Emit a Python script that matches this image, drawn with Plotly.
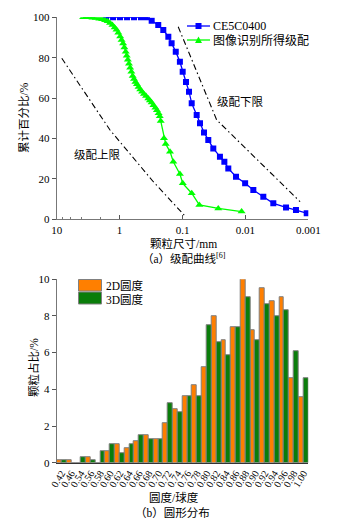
import plotly.graph_objects as go

# ---------------- data: top chart (grading curves) ----------------
blue_x = [1.64, 1.27, 0.986, 0.762, 0.59, 0.457, 0.367, 0.309, 0.243, 0.202, 0.168, 0.149,
          0.128, 0.110, 0.0993, 0.088, 0.0788, 0.0714, 0.0595, 0.0527, 0.0455, 0.0389,
          0.0324, 0.0254, 0.0216, 0.0187, 0.0141, 0.0101, 0.00748, 0.00519, 0.0036,
          0.00226, 0.00157, 0.00106]
blue_y = [100, 100, 100, 100, 100, 100, 100, 98.3, 96.2, 93.7, 90.4, 87.1,
          83, 78, 73, 68, 63.2, 57.4, 51.6, 47.5, 43, 39.3,
          35.1, 31, 28.5, 25.2, 21.1, 17.8, 14.5, 11.2, 7.9,
          5.9, 4.6, 3.0]

green_x = [3.8, 3.4, 3.0, 2.7, 2.4, 2.1, 1.9, 1.7, 1.55, 1.42, 1.3, 1.2, 1.12, 1.05, 0.98,
           0.93, 0.88, 0.84, 0.80, 0.77, 0.74, 0.71, 0.68, 0.65, 0.62, 0.59, 0.56, 0.53,
           0.50, 0.47, 0.44, 0.41, 0.38, 0.35, 0.33, 0.31, 0.29, 0.27, 0.255, 0.24, 0.23,
           0.222, 0.197, 0.185, 0.158, 0.140, 0.110, 0.099, 0.0714, 0.054, 0.027, 0.0115]
green_y = [100, 100, 100, 99.8, 99.6, 99.3, 99, 98.5, 98, 97.2, 96.2, 95, 93.8, 92.3, 90.5,
           88.8, 87, 85, 83, 81, 79, 77, 75, 73, 71, 69.5, 68, 66.8,
           65.5, 64.3, 63.2, 62, 61, 59.8, 58.8, 57.8, 56.5, 55.2, 54, 52.5, 51,
           48.7, 40.1, 37.3, 33.5, 28.5, 22.4, 17.8, 12.9, 7.1, 5.4, 3.8]

upper_x = [8.3, 1.42, 0.291, 0.094]
upper_y = [79.7, 44.2, 18.6, 2.1]
lower_x = [0.117, 0.0286, 0.00135]
lower_y = [95.3, 49.2, 8.7]

top_ticks = [10, 1, 0.1, 0.01, 0.001]
top_tick_text = ["10", "1", "0.1", "0.01", "0.001"]

# ---------------- data: bottom chart (roundness distribution) ----------------
categories = ["0.42", "0.46", "0.54", "0.56", "0.58", "0.60", "0.62", "0.64", "0.66",
              "0.68", "0.70", "0.72", "0.74", "0.76", "0.78", "0.80", "0.82", "0.84",
              "0.86", "0.88", "0.90", "0.92", "0.94", "0.96", "0.98", "1.00"]
round_2d = [0.15, 0.15, 0, 0.3, 0, 0.65, 1.0, 0.8, 1.15, 1.5, 1.3, 2.15, 2.9, 3.6, 4.25,
            5.2, 8.0, 6.7, 7.4, 10.0, 7.2, 9.5, 8.8, 9.0, 4.6, 3.55]
round_3d = [0.15, 0, 0.3, 0.15, 0.65, 1.0, 0.5, 1.0, 1.5, 1.3, 1.3, 3.25, 2.75, 3.6, 3.6,
            7.5, 6.55, 5.85, 7.4, 9.0, 6.7, 8.65, 8.0, 8.3, 6.05, 4.6]

W, H = 353, 521
SERIF = "Liberation Serif, Times New Roman, Noto Sans CJK SC, serif"
CJK = "Liberation Serif, Noto Sans CJK SC, serif"

def px(xp):
    return xp / W

def py(yp):
    return 1 - yp / H

fig = go.Figure()

DASH = "6px,3px,1.5px,3px"
fig.add_trace(go.Scatter(x=upper_x, y=upper_y, mode="lines", xaxis="x", yaxis="y",
                         line=dict(color="black", width=1.1, dash=DASH), showlegend=False))
fig.add_trace(go.Scatter(x=lower_x, y=lower_y, mode="lines", xaxis="x", yaxis="y",
                         line=dict(color="black", width=1.1, dash=DASH), showlegend=False))
fig.add_trace(go.Scatter(x=blue_x, y=blue_y, mode="lines+markers", xaxis="x", yaxis="y",
                         line=dict(color="#0000FF", width=1.3),
                         marker=dict(symbol="square", size=6, color="#0000FF"),
                         showlegend=False))
fig.add_trace(go.Scatter(x=green_x, y=green_y, mode="lines+markers", xaxis="x", yaxis="y",
                         line=dict(color="#00FF00", width=1.3),
                         marker=dict(symbol="triangle-up", size=7, color="#00FF00"),
                         showlegend=False))

fig.add_trace(go.Bar(x=categories, y=round_2d, xaxis="x2", yaxis="y2", name="2D圆度",
                     marker=dict(color="#FF7F00", line=dict(color="#808080", width=1)),
                     showlegend=False))
fig.add_trace(go.Bar(x=categories, y=round_3d, xaxis="x2", yaxis="y2", name="3D圆度",
                     marker=dict(color="#0A7D0A", line=dict(color="#808080", width=1)),
                     showlegend=False))

tickfont = dict(family=SERIF, size=11, color="black")

fig.update_layout(
    template="none",
    width=W, height=H,
    margin=dict(l=0, r=0, t=0, b=0, pad=0),
    paper_bgcolor="white", plot_bgcolor="white",
    barmode="group", bargap=0, bargroupgap=0,
    xaxis=dict(type="log", domain=[px(56.7), px(308.3)], range=[1, -3], anchor="y",
               automargin=False,
               tickvals=top_ticks, ticktext=top_tick_text, ticks="inside", ticklen=4,
               tickcolor="#555", showline=True, linecolor="#777", linewidth=1,
               showgrid=False, zeroline=False, tickfont=tickfont,
               minor=dict(ticks="inside", ticklen=2, tickcolor="#777", showgrid=False)),
    yaxis=dict(domain=[py(219.3), py(17.3)], range=[0, 100], anchor="x",
               automargin=False,
               tickvals=[0, 20, 40, 60, 80, 100], ticks="outside", ticklen=4,
               tickcolor="#555", showline=True, linecolor="#777", linewidth=1,
               showgrid=False, zeroline=False, tickfont=tickfont),
    xaxis2=dict(domain=[px(56.7), px(308.3)], range=[-0.5, 25.5], anchor="y2",
                automargin=False,
                type="category", tickmode="array", tickvals=categories, ticktext=categories,
                tickangle=-58, ticks="", showline=True,
                linecolor="#333", linewidth=1, showgrid=False, zeroline=False,
                tickfont=dict(family=SERIF, size=10, color="black")),
    yaxis2=dict(domain=[py(462.7), py(279.2)], range=[0, 10], anchor="x2",
                automargin=False,
                tickvals=[0, 2, 4, 6, 8, 10], ticks="outside", ticklen=4,
                tickcolor="#555", showline=True, linecolor="#777", linewidth=1,
                showgrid=False, zeroline=False, tickfont=tickfont),
)

ann = []
def text(x, y, s, size=12, angle=0, xanchor="center", family=CJK):
    ann.append(dict(x=px(x), y=py(y), xref="paper", yref="paper", text=s, showarrow=False,
                    textangle=angle, xanchor=xanchor, yanchor="middle",
                    font=dict(family=family, size=size, color="black")))

text(24, 118, "累计百分比/%", size=11.5, angle=-90)
text(183, 243, "颗粒尺寸/mm", size=11.5)
text(184, 258, "（a）级配曲线<sup>[6]</sup>", size=11.5)
text(240, 102, "级配下限", size=11.5)
text(97, 155, "级配上限", size=11.5)
text(211, 26, "CE5C0400", size=12, xanchor="left", family=SERIF)
text(211, 41, "图像识别所得级配", size=12, xanchor="left")
text(33, 368, "颗粒占比/%", size=11.5, angle=-90)
text(174, 497, "圆度/球度", size=11.5)
text(172, 513, "（b）圆形分布", size=11.5)
text(104, 285, "2D圆度", size=11.5, xanchor="left")
text(104, 299, "3D圆度", size=11.5, xanchor="left")

fig.update_layout(annotations=ann)

shapes = []
shapes.append(dict(type="line", xref="paper", yref="paper", x0=px(187), x1=px(210),
                   y0=py(26), y1=py(26), line=dict(color="#0000FF", width=1.3)))
shapes.append(dict(type="rect", xref="paper", yref="paper", x0=px(195.5), x1=px(201.5),
                   y0=py(29), y1=py(23), fillcolor="#0000FF", line=dict(width=0)))
shapes.append(dict(type="line", xref="paper", yref="paper", x0=px(187), x1=px(210),
                   y0=py(40), y1=py(40), line=dict(color="#00FF00", width=1.3)))
shapes.append(dict(type="path", xref="paper", yref="paper",
                   path=f"M {px(195)},{py(43)} L {px(202)},{py(43)} L {px(198.5)},{py(36.5)} Z",
                   fillcolor="#00FF00", line=dict(width=0)))
shapes.append(dict(type="rect", xref="paper", yref="paper", x0=px(78.5), x1=px(101.5),
                   y0=py(291), y1=py(279.5), fillcolor="#FF7F00",
                   line=dict(color="#808080", width=1)))
shapes.append(dict(type="rect", xref="paper", yref="paper", x0=px(78.5), x1=px(101.5),
                   y0=py(304), y1=py(292), fillcolor="#0A7D0A",
                   line=dict(color="#808080", width=1)))
fig.update_layout(shapes=shapes)

fig.write_html("out.html")
